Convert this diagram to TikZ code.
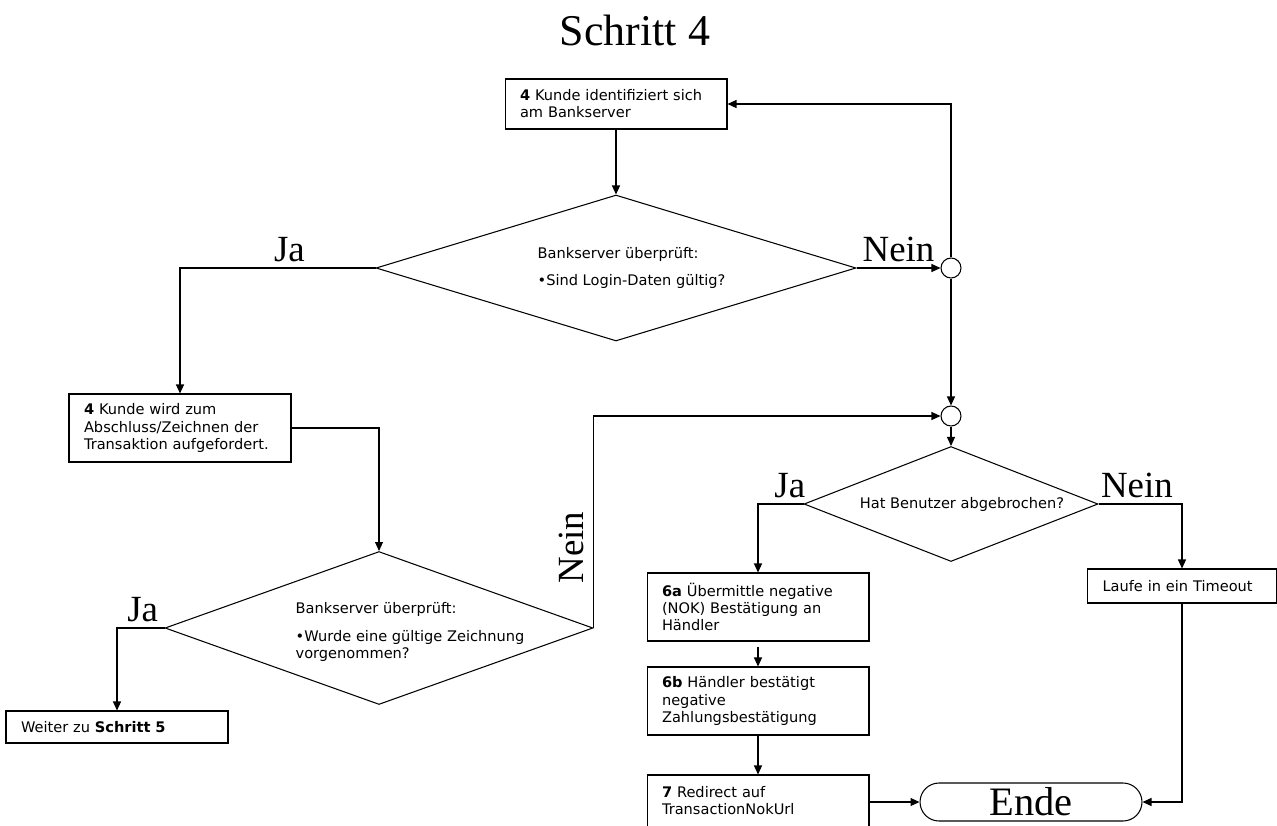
\documentclass[tikz,border=0pt]{standalone}
\usepackage{fontspec}
\setmainfont{Liberation Serif}
\newfontfamily\boxfont{DejaVu Sans}
\usetikzlibrary{arrows.meta,shapes.geometric}

\tikzset{
	stepbox/.style={draw, rectangle, align=left, text width=3.84cm, inner xsep=0.3cm, inner ysep=0pt, font=\boxfont\fontsize{8.3}{9.7}\selectfont},
	query/.style={draw, diamond, inner sep=0pt},
	qtext/.style={align=left, font=\boxfont\fontsize{8.3}{9.7}\selectfont},
	joint/.style={draw, circle, minimum size=0.4cm, inner sep=0pt},
	answer/.style={font=\fontsize{21}{25}\selectfont, inner sep=3pt}
}

\begin{document}
\begin{tikzpicture}[x=0.02cm, y=-0.02cm, line width=0.6pt, >={Triangle[length=0.18cm,width=0.16cm]}]
				\clip (0,0) rectangle (1277,825);
				\node (title) at (635,30) {\fontsize{25}{30}\selectfont Schritt 4};

				\begin{scope}[every node/.style={stepbox, minimum height=1.36cm}]
					\node[minimum height=1cm] (s_1) at (616,104) {\textbf{4} Kunde identifiziert sich\\am Bankserver};
					\node (s_2) at (180,428) {\textbf{4} Kunde wird zum\\Abschluss/Zeichnen der\\Transaktion aufgefordert.};
					\node[minimum height=0.64cm] (s_3) at (117,727) {Weiter zu \textbf{Schritt 5}};

					\node (s_4) at (758,607) {\textbf{6a} Übermittle negative\\(NOK) Bestätigung an\\Händler};
					\node (s_5) at (758,701) {\textbf{6b} Händler bestätigt\\negative\\Zahlungsbestätigung};
					\node (s_6) at (758,809) {\textbf{7} Redirect auf\\TransactionNokUrl\\~};
					\node[text width=3.18cm, minimum height=0.68cm] (s_7) at (1182,586) {Laufe in ein Timeout};
				\end{scope}

				\begin{scope}[every node/.style={query}]
					\node[minimum width=9.6cm, minimum height=2.92cm,
						label={[qtext, xshift=0.31cm]center:{Bankserver überprüft:\\[5.5pt]•Sind Login-Daten gültig?}}] (q_1) at (616,268) {};
					\node[minimum width=8.56cm, minimum height=3.06cm,
						label={[qtext, xshift=0.62cm, yshift=-0.08cm]center:{Bankserver überprüft:\\[6pt]•Wurde eine gültige Zeichnung\\vorgenommen?}}] (q_2) at (379,628) {};
					\node[minimum width=5.88cm, minimum height=2.3cm,
						label={[qtext, xshift=0.22cm]center:{Hat Benutzer abgebrochen?}}] (q_3) at (951,504) {};
				\end{scope}

				\node[joint] (c_1) at (951,268) {};
				\node[joint] (c_2) at (951,416) {};
				\node[draw, rectangle, rounded corners=0.38cm, minimum width=4.44cm, minimum height=0.76cm, inner sep=0pt,
					font=\fontsize{23}{27}\selectfont] (ende) at (1031,802) {Ende};

				\begin{scope}[]
					\path [->] (s_1) edge (q_1);
					\path [->] (q_1) edge node[answer, above] {Nein} (c_1);
					\draw [->] (c_1) |- (s_1);
					\path [->] (c_1) edge (c_2);
					\draw [->] (q_1) -| node[answer, above, pos=0.22] {Ja} (s_2);

					\draw [->] (s_2) -| (q_2);
					\draw [->] (q_2) -| node[answer, above, pos=0.23] {Ja} (s_3);
					\draw [->] (q_2.east) |- node[answer, rotate=90, anchor=south, inner sep=5pt, pos=0.19] {Nein} (c_2);

					\path [->] (c_2) edge (q_3);
					\draw [->] (q_3) -| node[answer, above, pos=0.15] {Ja} (s_4);
					\draw [->] (q_3) -| node[answer, above, pos=0.23] {Nein} (s_7);

					\path [->] (s_4) edge[shorten <=0.1cm] (s_5);
					\path [->] (s_5) edge (s_6);
					\draw [->] (ende.west -| s_6.east) -- (ende.west);
					\draw [->] (s_7) |- (ende);
				\end{scope}
			\end{tikzpicture}
\end{document}
